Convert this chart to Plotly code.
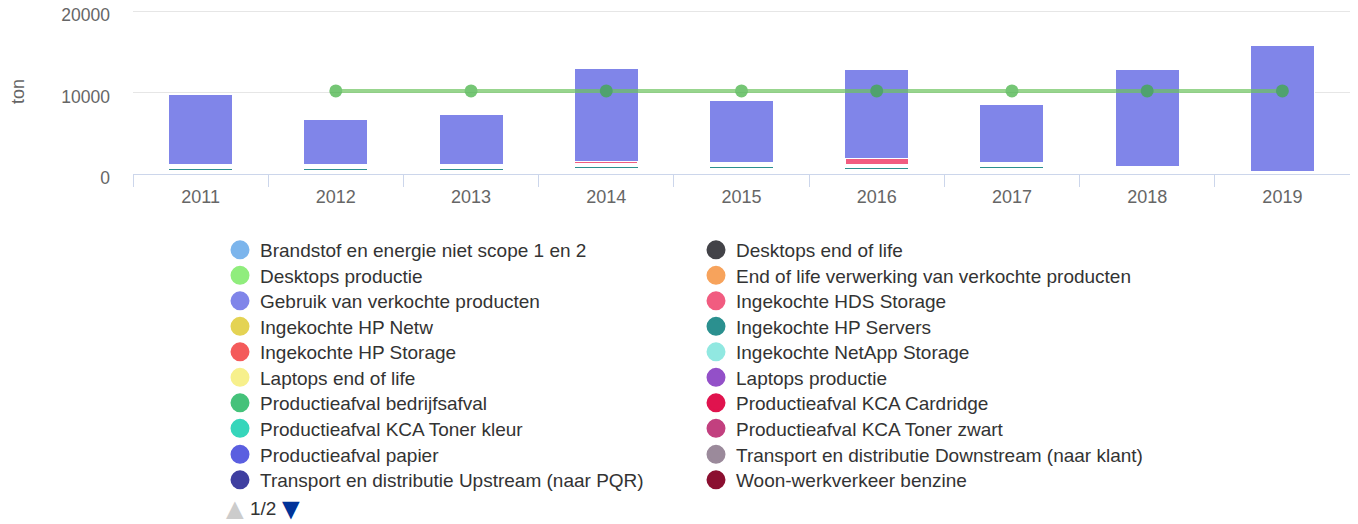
import plotly.graph_objects as go

years = [2011, 2012, 2013, 2014, 2015, 2016, 2017, 2018, 2019]

# Series (Highcharts index order: first series is stacked on top)
brandstof = [0, 0, 0, 0, 0, 0, 0, 0, 0]
desktops_eol = [0, 0, 0, 0, 0, 0, 0, 0, 0]
desktops_productie = [0, 0, 0, 0, 0, 0, 0, 0, 0]
eol_verwerking = [0, 0, 0, 0, 0, 0, 0, 0, 0]
gebruik = [8705, 5640, 6250, 11420, 7720, 10970, 7140, 12020, 15490]
hds_storage = [150, 150, 150, 350, 150, 800, 150, 0, 0]
hp_netw = [200, 200, 200, 250, 200, 250, 200, 200, 50]
hp_servers = [320, 320, 320, 320, 320, 320, 320, 0, 0]
hp_storage = [40, 40, 40, 100, 40, 40, 40, 60, 0]
netapp_storage = [0, 0, 0, 0, 250, 0, 250, 0, 0]
laptops_eol = [40, 40, 40, 50, 40, 50, 40, 60, 20]
laptops_productie = [40, 40, 40, 60, 40, 50, 40, 60, 20]
bedrijfsafval = [40, 40, 40, 50, 40, 50, 40, 60, 20]
kca_cardridge = [30, 30, 30, 50, 40, 50, 40, 60, 20]
kca_toner_kleur = [40, 40, 40, 60, 40, 50, 40, 60, 20]
kca_toner_zwart = [40, 40, 40, 50, 40, 50, 40, 60, 20]
papier = [50, 50, 50, 60, 40, 50, 40, 60, 20]
transport_downstream = [40, 40, 40, 60, 40, 50, 40, 60, 20]
transport_upstream = [40, 40, 40, 60, 40, 50, 40, 60, 20]
woon_werk_benzine = [40, 40, 40, 60, 40, 50, 40, 60, 20]

line_values = [None, 10200, 10200, 10200, 10200, 10200, 10200, 10200, 10200]

y_ticks = [0, 10000, 20000]

# name, colour, values, white border width of the bar segments
series = [
    ("Brandstof en energie niet scope 1 en 2", "#7cb5ec", brandstof, 1),
    ("Desktops end of life", "#434348", desktops_eol, 1),
    ("Desktops productie", "#90ed7d", desktops_productie, 1),
    ("End of life verwerking van verkochte producten", "#f7a35c", eol_verwerking, 1),
    ("Gebruik van verkochte producten", "#8085e9", gebruik, 1),
    ("Ingekochte HDS Storage", "#f15c80", hds_storage, 2),
    ("Ingekochte HP Netw", "#e4d354", hp_netw, 2),
    ("Ingekochte HP Servers", "#2b908f", hp_servers, 1),
    ("Ingekochte HP Storage", "#f45b5b", hp_storage, 2),
    ("Ingekochte NetApp Storage", "#91e8e1", netapp_storage, 1),
    ("Laptops end of life", "#f7f08c", laptops_eol, 2),
    ("Laptops productie", "#9350c8", laptops_productie, 2),
    ("Productieafval bedrijfsafval", "#45c27a", bedrijfsafval, 2),
    ("Productieafval KCA Cardridge", "#e0134e", kca_cardridge, 2),
    ("Productieafval KCA Toner kleur", "#36d6bb", kca_toner_kleur, 2),
    ("Productieafval KCA Toner zwart", "#c2407f", kca_toner_zwart, 2),
    ("Productieafval papier", "#5b5fe0", papier, 2),
    ("Transport en distributie Downstream (naar klant)", "#9b8a9b", transport_downstream, 2),
    ("Transport en distributie Upstream (naar PQR)", "#3f3fa0", transport_upstream, 2),
    ("Woon-werkverkeer benzine", "#8b0f30", woon_werk_benzine, 2),
]

# the page body has an 8px margin, so the figure starts at (8, 8) in the window
OFF = 8
W, H = 1358 - OFF, 524 - OFF
PLOT_L, PLOT_T = 133 - OFF, 9 - OFF
PLOT_R, PLOT_B = 1350 - OFF, 174 - OFF
plot_h = PLOT_B - PLOT_T
plot_w = PLOT_R - PLOT_L

fig = go.Figure()

# bars: add last series first so the first series ends up on top of the stack
for name, color, vals, bw in reversed(series):
    fig.add_trace(go.Bar(
        x=years, y=vals, name=name, legendgroup=name, showlegend=False,
        marker=dict(color=color, line=dict(color="#ffffff", width=bw)),
    ))

# legend entries (circle symbols): one legend per row of two entries
legend_font = dict(size=19, color="#333333", family="Liberation Sans, Arial, sans-serif")
row_centers = [250, 275.5, 301, 326.5, 352, 377.5, 403, 428.5, 454.5, 480]
legend_layout = {}
for i, (name, color, vals, bw) in enumerate(series):
    row = i // 2
    key = "legend" if row == 0 else f"legend{row + 1}"
    fig.add_trace(go.Scatter(
        x=[None], y=[None], mode="markers", name=name, legendgroup=name,
        legend=key,
        marker=dict(color=color, size=16, line=dict(color=color, width=3)),
        hoverinfo="skip",
    ))
    legend_layout[key] = dict(
        orientation="h", xref="container", yref="container",
        x=(220 - OFF) / W, xanchor="left",
        y=1 - (row_centers[row] - 19 - OFF) / H, yanchor="top",
        entrywidth=431, entrywidthmode="pixels",
        font=legend_font, bgcolor="rgba(0,0,0,0)", traceorder="normal",
    )

fig.add_trace(go.Scatter(
    x=years, y=line_values, mode="lines+markers", name="Doel",
    showlegend=False, opacity=0.7,
    line=dict(color="rgb(109,196,95)", width=4),
    marker=dict(color="rgb(59,175,59)", size=13),
))

fig.update_layout(
    width=W, height=H,
    margin=dict(l=PLOT_L, r=W - PLOT_R, t=PLOT_T, b=H - PLOT_B, autoexpand=False),
    paper_bgcolor="#ffffff", plot_bgcolor="#ffffff",
    barmode="stack", bargap=0.526,
    font=dict(family="Liberation Sans, Arial, sans-serif", color="#666666", size=18),
    xaxis=dict(
        range=[2010.5, 2019.5], tickmode="array", tickvals=years,
        ticktext=[str(y) for y in years], ticks="", showgrid=False,
        showline=True, linecolor="#ccd6eb", linewidth=1, zeroline=False,
        tickfont=dict(size=18, color="#666666"), ticklabelstandoff=6,
        automargin=False,
        minor=dict(tick0=2010.5, dtick=1, ticks="outside", ticklen=12,
                   tickcolor="#ccd6eb", tickwidth=1, showgrid=False),
    ),
    yaxis=dict(
        range=[0, 20250], tickmode="array", tickvals=y_ticks,
        ticktext=[str(v) for v in y_ticks],
        showgrid=True, gridcolor="#e6e6e6", gridwidth=1, zeroline=False,
        showline=False, tickfont=dict(size=17.5, color="#666666"),
        ticklabelstandoff=22, ticklabelshift=4, ticklabeloverflow="allow",
        automargin=False,
        title=dict(text="ton", font=dict(size=18, color="#666666"), standoff=41),
    ),
    showlegend=True,
    **legend_layout,
)

# legend pager
pager = [("▲", 235, 30, "#cccccc"), ("1/2", 262.5, 19, "#333333"), ("▼", 291, 30, "#003399")]
for txt, px, size, col in pager:
    fig.add_annotation(
        xref="paper", yref="paper",
        x=(px - OFF - PLOT_L) / plot_w, y=(PLOT_B - (508 - OFF)) / plot_h,
        xanchor="center", yanchor="middle", text=txt, showarrow=False,
        font=dict(size=size, color=col, family="Liberation Sans, Arial, sans-serif"),
    )

fig.write_html("out.html")
